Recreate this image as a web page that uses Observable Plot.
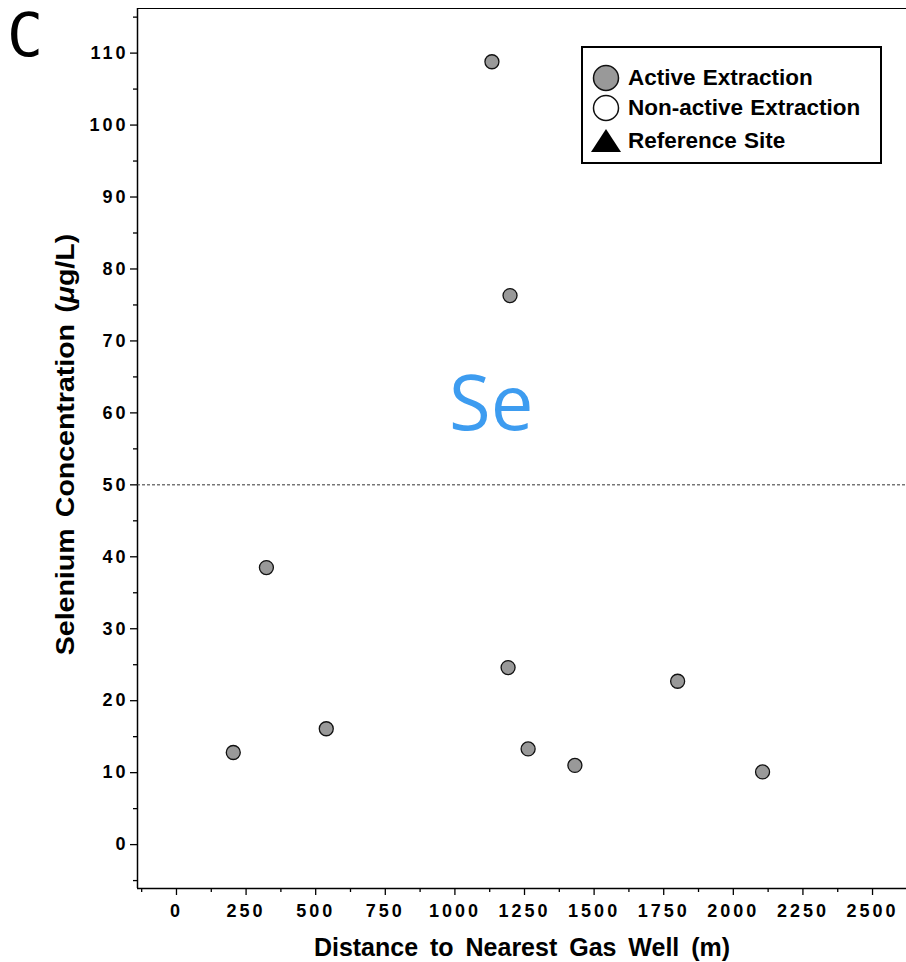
<!DOCTYPE html>
<html>
<head>
<meta charset="utf-8">
<script src="https://cdn.jsdelivr.net/npm/d3@7"></script>
<script src="https://cdn.jsdelivr.net/npm/@observablehq/plot@0.6"></script>
<style>
  body { margin: 0; background: #fff; }
  #wrap { position: relative; width: 906px; height: 962px; overflow: hidden; }
  #wrap svg { position: absolute; left: 0; top: 0; }
  .ov { position: absolute; white-space: nowrap; }
  #panel { left: 7px; top: 0px; font-family: "DejaVu Sans Mono", monospace; font-size: 60px; color: #000; }
  #elem { left: 449px; top: 363px; font-family: "Open Sans", sans-serif; font-size: 76px; color: #3d9cf0; line-height: 1; }
  #legend { left: 581px; top: 46px; width: 297px; height: 114px; border: 2px solid #000; background: #fff;
            font-family: "Liberation Sans", Arial, sans-serif; font-weight: bold; font-size: 22.5px; }
  #legend .row { position: absolute; left: 0; height: 30px; }
  #legend svg { position: absolute; left: 8px; top: 0; }
  #legend span { position: absolute; left: 45px; top: 2px; word-spacing: 1px; }
</style>
</head>
<body>
<div id="wrap"></div>
<script>
// Data
const distance = [204, 323, 538, 1133, 1191, 1198, 1263, 1431, 1800, 2105];
const selenium = [12.8, 38.5, 16.1, 108.8, 24.6, 76.3, 13.3, 11.0, 22.7, 10.1];
const siteType = ["Active Extraction","Active Extraction","Active Extraction","Active Extraction","Active Extraction","Active Extraction","Active Extraction","Active Extraction","Active Extraction","Active Extraction"];
const mclLimit = [50];
const xTicks = [0, 250, 500, 750, 1000, 1250, 1500, 1750, 2000, 2250, 2500];
const xMinor = [-125, 125, 375, 625, 875, 1125, 1375, 1625, 1875, 2125, 2375, 2625];
const yTicks = [0, 10, 20, 30, 40, 50, 60, 70, 80, 90, 100, 110];
const yMinor = [-5, 5, 15, 25, 35, 45, 55, 65, 75, 85, 95, 105, 115];
const legendItems = ["Active Extraction", "Non-active Extraction", "Reference Site"];

const data = distance.map((d, i) => ({distance: d, selenium: selenium[i], type: siteType[i]}));
const xDomain = [-140, 2622];
const yDomain = [-6.1, 116.2];

const chart = Plot.plot({
  width: 906,
  height: 962,
  marginLeft: 137,
  marginRight: 0,
  marginTop: 8,
  marginBottom: 74,
  style: {fontFamily: "'Liberation Sans', Arial, sans-serif", fontSize: "18px", fontWeight: "bold", color: "#000", background: "#fff"},
  x: {domain: xDomain},
  y: {domain: yDomain},
  marks: [
    Plot.axisX({ticks: xTicks, tickFormat: d => String(d), tickSize: 7, tickPadding: 9, label: null, strokeWidth: 1.3}),
    Plot.axisX({ticks: xMinor.filter(v => v > xDomain[0] && v < xDomain[1]), tickSize: 4, text: null, label: null, strokeWidth: 1.3}),
    Plot.axisY({ticks: yTicks, tickFormat: d => String(d), tickSize: 7, tickPadding: 2, label: null, strokeWidth: 1.3}),
    Plot.axisY({ticks: yMinor.filter(v => v > yDomain[0] && v < yDomain[1]), tickSize: 4, text: null, label: null, strokeWidth: 1.3}),
    Plot.ruleX([xDomain[0]], {strokeWidth: 1.5}),
    Plot.ruleY([yDomain[0]], {strokeWidth: 1.5}),
    Plot.ruleY([yDomain[1]], {strokeWidth: 1}),
    Plot.ruleY(mclLimit, {strokeDasharray: "3,2", strokeWidth: 1, stroke: "#333"}),
    Plot.dot(data, {x: "distance", y: "selenium", r: 7, fill: "#999", stroke: "#111", strokeWidth: 1.3})
  ]
});

const svg = d3.select(chart);
svg.selectAll('g[aria-label="x-axis tick label"] text, g[aria-label="y-axis tick label"] text')
  .style("letter-spacing", "3px");
svg.append("text")
  .attr("transform", "translate(522,955.5) scale(1,1.05)")
  .attr("text-anchor", "middle")
  .style("font-size", "25px").style("font-weight", "bold").style("word-spacing", "5px")
  .text("Distance to Nearest Gas Well (m)");
const yt = svg.append("text")
  .attr("transform", "translate(74,444.5) rotate(-90) scale(1.14,1)")
  .attr("text-anchor", "middle")
  .style("font-size", "25px").style("font-weight", "bold").style("word-spacing", "3px");
yt.append("tspan").text("Selenium Concentration (");
yt.append("tspan").style("font-style", "italic").text("μ");
yt.append("tspan").text("g/L)");

const wrap = document.getElementById("wrap");
wrap.appendChild(chart);

const panel = document.createElement("div");
panel.className = "ov"; panel.id = "panel"; panel.textContent = "C";
wrap.appendChild(panel);

const elem = document.createElement("div");
elem.className = "ov"; elem.id = "elem"; elem.textContent = "Se";
wrap.appendChild(elem);

const legend = document.createElement("div");
legend.className = "ov"; legend.id = "legend";
const symbols = [
  '<circle cx="15" cy="15" r="12.5" fill="#999" stroke="#111" stroke-width="1.5"/>',
  '<circle cx="15" cy="15" r="12.5" fill="#fff" stroke="#111" stroke-width="1.5"/>',
  '<polygon points="15,3 30,26 0,26" fill="#000"/>'
];
const tops = [15, 45, 78];
legendItems.forEach((name, i) => {
  const row = document.createElement("div");
  row.className = "row";
  row.style.top = tops[i] + "px";
  row.style.width = "297px";
  row.innerHTML = `<svg width="32" height="30">${symbols[i]}</svg><span>${name}</span>`;
  legend.appendChild(row);
});
wrap.appendChild(legend);
</script>
</body>
</html>
